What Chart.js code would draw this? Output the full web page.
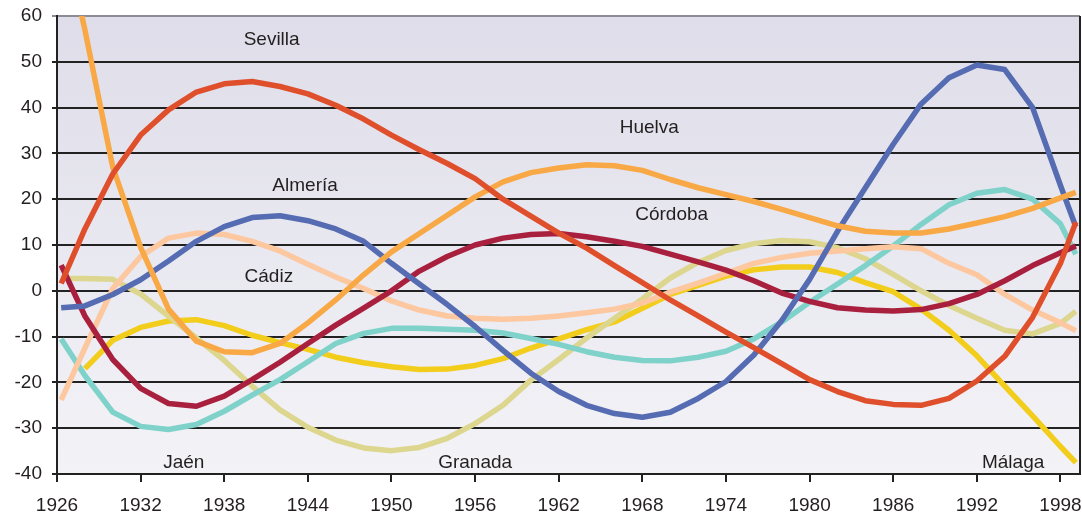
<!DOCTYPE html>
<html>
<head>
<meta charset="utf-8">
<script src="https://cdn.jsdelivr.net/npm/chart.js@4"></script>
<style>
  html, body { margin: 0; padding: 0; background: #ffffff; }
  #wrap { width: 1082px; height: 516px; position: relative; }
</style>
</head>
<body>
<div id="wrap"><canvas id="c" width="1082" height="516"></canvas></div>
<script>
// ---- data ----
const years = [1926.3, 1928, 1930, 1932, 1934, 1936, 1938, 1940, 1942, 1944, 1946, 1948, 1950, 1952, 1954, 1956, 1958, 1960, 1962, 1964, 1966, 1968, 1970, 1972, 1974, 1976, 1978, 1980, 1982, 1984, 1986, 1988, 1990, 1992, 1994, 1996, 1998, 1999.1];
const xTickLabels = [1926, 1932, 1938, 1944, 1950, 1956, 1962, 1968, 1974, 1980, 1986, 1992, 1998];
const yTickValues = [-40, -30, -20, -10, 0, 10, 20, 30, 40, 50, 60];

const sevilla = [1.6, 13.5, 25.5, 34, 39.5, 43.4, 45.2, 45.7, 44.6, 43, 40.5, 37.5, 34, 30.8, 27.8, 24.5, 20, 16.3, 12.6, 9.3, 5.5, 1.8, -2, -5.5, -9, -12.4, -15.9, -19.4, -22, -24, -24.8, -25, -23.5, -19.7, -14.3, -5.8, 6, 15];
const huelva = [80, 57, 27, 9.5, -4, -11, -13.3, -13.5, -11.5, -7, -2, 3.5, 8.5, 12.5, 16.5, 20.5, 23.8, 25.8, 26.8, 27.5, 27.3, 26.3, 24.3, 22.5, 21, 19.5, 17.8, 16, 14.2, 13, 12.6, 12.6, 13.5, 14.8, 16.2, 18, 20.3, 21.5];
const almeria = [-3.7, -3.3, -0.8, 2.4, 6.5, 10.8, 14, 16, 16.4, 15.3, 13.5, 10.8, 6, 1.5, -3, -7.8, -13, -18, -22, -25, -26.8, -27.6, -26.5, -23.5, -19.8, -14, -6.5, 2.5, 13, 22.5, 32, 40.8, 46.5, 49.3, 48.3, 40, 23, 14];
const cordoba = [5.6, -5.5, -15, -21.3, -24.6, -25.2, -23, -19.4, -15.6, -11.5, -7.5, -3.8, 0, 4.3, 7.5, 10, 11.5, 12.3, 12.5, 11.8, 10.8, 9.7, 8, 6.3, 4.5, 2.2, -0.5, -2.3, -3.7, -4.2, -4.4, -4.1, -2.8, -0.8, 2.2, 5.5, 8.3, 9.8];
const cadiz = [-23.8, -12.5, 0.5, 7.5, 11.5, 12.6, 12.3, 10.8, 8.7, 5.8, 3, 0.5, -2.2, -4.2, -5.5, -6, -6.2, -6, -5.5, -4.8, -4, -2.7, -0.3, 1.7, 3.8, 6, 7.3, 8.2, 8.7, 9.2, 9.6, 9.2, 6, 3.5, -0.8, -4.2, -7, -8.7];
const jaen = [-10.5, -18.5, -26.5, -29.6, -30.3, -29.2, -26.3, -22.8, -19.4, -15.5, -11.5, -9.3, -8.2, -8.2, -8.4, -8.6, -9.2, -10.4, -11.7, -13.3, -14.5, -15.2, -15.3, -14.5, -13.2, -10.5, -6.8, -2.5, 1.5, 5.5, 9.8, 14.5, 18.8, 21.3, 22.1, 20, 14.6, 8];
const granada = [2.7, 2.7, 2.5, -0.7, -5.5, -10.3, -15.2, -20.8, -26, -29.8, -32.6, -34.3, -34.9, -34.2, -32.2, -29, -25, -19.5, -15, -10.3, -6, -1.8, 2.8, 6.2, 8.8, 10.3, 11, 10.7, 9.4, 7, 3.6, 0, -3.2, -6, -8.6, -9.4, -7.1, -4.5];
const malaga = [null, -17, -10.8, -8, -6.6, -6.3, -7.6, -9.7, -11.3, -12.8, -14.5, -15.7, -16.6, -17.2, -17.1, -16.3, -14.8, -12.5, -10.5, -8.5, -6.8, -3.8, -0.8, 1.2, 3.2, 4.6, 5.2, 5.2, 4, 1.8, -0.2, -4, -8.6, -14.2, -20.8, -27.3, -34, -37.5];

const seriesNames = ['Sevilla', 'Huelva', 'Almería', 'Córdoba', 'Cádiz', 'Jaén', 'Granada', 'Málaga'];
const seriesValues = [sevilla, huelva, almeria, cordoba, cadiz, jaen, granada, malaga];
const seriesColors = ['#df4f2b', '#f8a845', '#556bb2', '#a8203e', '#fdc79f', '#7fd2ca', '#ddd68f', '#f2cd1c'];

// in-plot name labels, anchored in data space (year, value)
const nameLabels = [
  { text: 'Sevilla', year: 1941.4, value: 54.8 },
  { text: 'Huelva', year: 1968.5, value: 35.5 },
  { text: 'Almería', year: 1943.8, value: 22.9 },
  { text: 'Córdoba', year: 1970.1, value: 16.6 },
  { text: 'Cádiz', year: 1941.2, value: 3 },
  { text: 'Jaén', year: 1935.1, value: -37.6 },
  { text: 'Granada', year: 1956, value: -37.6 },
  { text: 'Málaga', year: 1994.6, value: -37.6 }
];

const FONT = '"Liberation Sans", Arial, Helvetica, sans-serif';
const TEXT = '#231f20';

const bgPlugin = {
  id: 'bg',
  beforeDraw(chart) {
    const { ctx, chartArea: a } = chart;
    const g = ctx.createLinearGradient(0, a.top, 0, a.bottom);
    g.addColorStop(0, '#dedde9');
    g.addColorStop(1, '#f3f3f7');
    ctx.save();
    ctx.fillStyle = g;
    ctx.fillRect(a.left, a.top, a.right - a.left, a.bottom - a.top);
    ctx.restore();
  },
  afterDraw(chart) {
    const { ctx, chartArea: a } = chart;
    ctx.save();
    ctx.strokeStyle = '#222222';
    ctx.lineWidth = 2;
    ctx.beginPath();
    ctx.moveTo(a.right, a.top);
    ctx.lineTo(a.right, a.bottom);
    ctx.stroke();
    ctx.restore();
  }
};

const labelPlugin = {
  id: 'names',
  afterDatasetsDraw(chart) {
    const { ctx, scales } = chart;
    ctx.save();
    ctx.fillStyle = TEXT;
    ctx.font = '19px ' + FONT;
    ctx.textAlign = 'center';
    ctx.textBaseline = 'middle';
    nameLabels.forEach(l => {
      ctx.fillText(l.text, scales.x.getPixelForValue(l.year), scales.y.getPixelForValue(l.value));
    });
    ctx.restore();
  }
};

const datasets = seriesNames.map((n, i) => ({
  label: n,
  data: years.map((y, j) => ({ x: y, y: seriesValues[i][j] })),
  borderColor: seriesColors[i],
  backgroundColor: seriesColors[i],
  borderWidth: 5.5,
  pointRadius: 0,
  tension: 0,
  fill: false,
  spanGaps: false,
  borderJoinStyle: 'round',
  borderCapStyle: 'butt'
}));

new Chart(document.getElementById('c'), {
  type: 'line',
  data: { datasets },
  options: {
    responsive: false,
    animation: false,
    layout: { padding: { top: 16, right: 2, left: 0, bottom: 0 } },
    plugins: { legend: { display: false }, tooltip: { enabled: false } },
    scales: {
      x: {
        type: 'linear',
        min: 1926,
        max: 1999.4,
        afterBuildTicks: s => { s.ticks = xTickLabels.map(v => ({ value: v })); },
        afterFit: s => { s.height = 42; s.paddingLeft = 0; s.paddingRight = 0; },
        ticks: {
          color: TEXT,
          font: { family: FONT, size: 19 },
          padding: 12,
          maxRotation: 0,
          autoSkip: false,
          callback: v => String(v)
        },
        grid: { drawOnChartArea: false, drawTicks: true, tickLength: 8, color: '#222222', lineWidth: 2 },
        border: { display: true, color: '#222222', width: 2 }
      },
      y: {
        type: 'linear',
        min: -40,
        max: 60,
        afterBuildTicks: s => { s.ticks = yTickValues.map(v => ({ value: v })); },
        afterFit: s => { s.width = 57; s.paddingTop = 0; s.paddingBottom = 0; },
        ticks: {
          color: TEXT,
          font: { family: FONT, size: 19 },
          padding: 10
        },
        grid: {
          drawTicks: true,
          tickLength: 5,
          lineWidth: 2,
          color: c => (c.tick && c.tick.value === 60) ? '#8c8c94' : '#222222'
        },
        border: { display: true, color: '#222222', width: 2 }
      }
    }
  },
  plugins: [bgPlugin, labelPlugin]
});
</script>
</body>
</html>
